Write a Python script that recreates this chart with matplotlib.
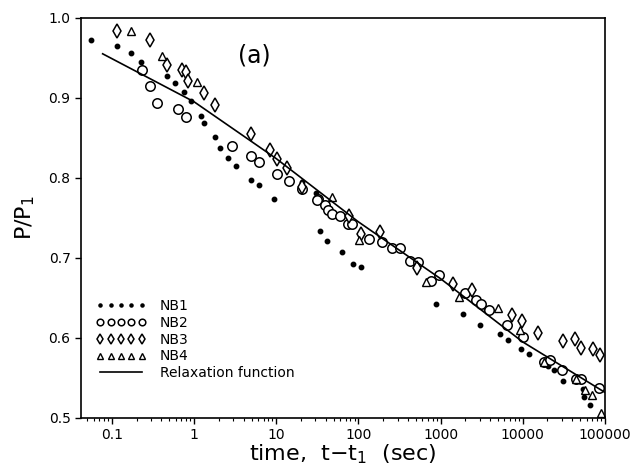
import matplotlib

matplotlib.use("Agg")
import matplotlib.pyplot as plt
from matplotlib.ticker import FixedLocator, NullFormatter, LogLocator

# --- data (time in sec, P/P1) ---
nb1_t = [0.055, 0.115, 0.17, 0.226, 0.47, 0.59, 0.755, 0.92, 1.22, 1.32, 1.8,
         2.07, 2.6, 3.25, 4.95, 6.2, 9.5, 20.7, 30.6, 34.4, 42, 64, 87, 109,
         869, 1900, 2990, 3540, 5250, 6560, 9460, 11800, 20200, 24000, 30700,
         53900, 55300, 65600]
nb1_p = [0.9725, 0.965, 0.956, 0.945, 0.9275, 0.919, 0.9075, 0.896, 0.8775,
         0.869, 0.851, 0.8375, 0.825, 0.815, 0.7975, 0.791, 0.774, 0.795, 0.781,
         0.734, 0.721, 0.7075, 0.6925, 0.689, 0.6425, 0.63, 0.616, 0.636, 0.605,
         0.5975, 0.586, 0.58, 0.565, 0.56, 0.546, 0.536, 0.526, 0.516]

nb2_t = [0.23, 0.29, 0.354, 0.64, 0.8, 2.9, 4.95, 6.2, 10.3, 14.4, 20.7, 32.5,
         31.6, 39.6, 43, 48, 60, 75, 84, 136, 196, 260, 318, 419, 525, 755, 970,
         1960, 2670, 3080, 3860, 6380, 10000, 18300, 21300, 29900, 44300, 51800,
         84500]
nb2_p = [0.935, 0.915, 0.894, 0.886, 0.876, 0.84, 0.8275, 0.82, 0.805, 0.796,
         0.786, 0.774, 0.7725, 0.766, 0.76, 0.755, 0.7525, 0.7425, 0.7425, 0.724,
         0.72, 0.7125, 0.7125, 0.696, 0.695, 0.671, 0.679, 0.656, 0.6475, 0.6425,
         0.635, 0.616, 0.601, 0.57, 0.5725, 0.56, 0.549, 0.549, 0.5375]

nb3_t = [0.115, 0.29, 0.47, 0.71, 0.8, 0.845, 1.32, 1.8, 4.95, 8.45, 10.3, 13.6,
         20.7, 77, 109, 185, 510, 1400, 2390, 7350, 9720, 15200, 30700, 43000,
         51000, 71400, 86900]
nb3_p = [0.984, 0.9725, 0.941, 0.935, 0.9325, 0.921, 0.906, 0.891, 0.855, 0.835,
         0.824, 0.8125, 0.788, 0.7525, 0.73, 0.7325, 0.6875, 0.6675, 0.66, 0.629,
         0.621, 0.606, 0.596, 0.599, 0.5875, 0.586, 0.579]

nb4_t = [0.17, 0.41, 1.09, 48, 103, 656, 1700, 4950, 9260, 18000, 44300, 57000,
         70000, 89000]
nb4_p = [0.984, 0.9525, 0.92, 0.776, 0.7225, 0.67, 0.651, 0.6375, 0.61, 0.57,
         0.549, 0.535, 0.529, 0.506]

fit_t = [0.077, 1, 10, 100, 1000, 10000, 100000]
fit_p = [0.955, 0.895, 0.824, 0.745, 0.674, 0.595, 0.532]

fig = plt.figure(figsize=(6.38, 4.68), dpi=100)
ax = fig.add_axes([0.127, 0.107, 0.821, 0.855])

ax.semilogx(nb1_t, nb1_p, "o", ms=3.2, color="black", label="NB1")
ax.semilogx(nb2_t, nb2_p, "o", ms=6.8, mfc="white", mec="black", mew=1.1,
            label="NB2")
ax.semilogx(nb3_t, nb3_p, "d", ms=7.5, mfc="white", mec="black", mew=1.1,
            label="NB3")
ax.semilogx(nb4_t, nb4_p, "^", ms=5.5, mfc="white", mec="black", mew=1.0,
            label="NB4")
ax.semilogx(fit_t, fit_p, "-", color="black", lw=1.2, label="Relaxation function")

ax.set_xlim(0.042, 1e5)
ax.set_ylim(0.5, 1.0)

ax.xaxis.set_major_locator(FixedLocator([0.1, 1, 10, 100, 1000, 10000, 100000]))
ax.set_xticklabels(["0.1", "1", "10", "100", "1000", "10000", "100000"])
ax.xaxis.set_minor_locator(LogLocator(base=10, subs=range(2, 10), numticks=20))
ax.xaxis.set_minor_formatter(NullFormatter())
ax.set_yticks([0.5, 0.6, 0.7, 0.8, 0.9, 1.0])
ax.set_yticklabels(["0.5", "0.6", "0.7", "0.8", "0.9", "1.0"])

ax.tick_params(which="major", direction="out", length=4, width=1.0,
               labelsize=10, top=False, right=False)
ax.tick_params(which="minor", direction="out", length=2.5, width=0.8,
               top=False, right=False)
for s in ax.spines.values():
    s.set_linewidth(1.2)

ax.set_xlabel("time,  t$-$t$_1$  (sec)", fontsize=16, labelpad=0)
ax.set_ylabel("P/P$_1$", fontsize=16, labelpad=8)
ax.text(0.33, 0.905, "(a)", transform=ax.transAxes, fontsize=17,
        ha="center", va="center")

ax.legend(loc="lower left", bbox_to_anchor=(0.01, 0.07), frameon=False,
          numpoints=5, handlelength=3.6, handletextpad=1.0, labelspacing=0.2,
          fontsize=10, borderaxespad=0.3, markerscale=0.7)

fig.savefig("out.png", dpi=100)
